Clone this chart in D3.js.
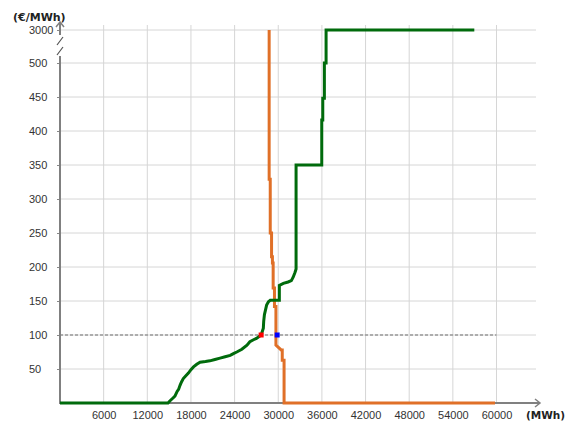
<!DOCTYPE html>
<html>
<head>
<meta charset="utf-8">
<script src="https://cdn.jsdelivr.net/npm/d3@7"></script>
<style>
  body { margin: 0; background: #fff; }
  svg { display: block; font-family: "DejaVu Sans", Verdana, sans-serif; }
  .tick text { font-size: 11px; fill: #333; }
</style>
</head>
<body>
<svg width="567" height="423"></svg>
<script>
// supply (sell) curve, [MWh, €/MWh]
const supply = [
    [0, 0], [14850, 0], [15100, 3], [15500, 7], [15800, 10], [16100, 17], [16300, 20],
    [16500, 26], [16700, 31], [16950, 36], [17300, 40], [17650, 44], [18000, 49],
    [18350, 53], [18800, 57], [19250, 60], [20000, 61], [20600, 62], [21300, 64],
    [22000, 66], [22700, 68], [23400, 70], [23900, 73], [24300, 75], [25000, 79],
    [25700, 85], [26100, 90], [26600, 93], [27000, 95], [27650, 100], [27950, 110],
    [28000, 120], [28100, 130], [28250, 137], [28400, 144], [28650, 149], [28900, 151],
    [30150, 151], [30150, 173], [30700, 176], [31350, 178], [31800, 180], [32050, 185],
    [32300, 192], [32450, 197], [32450, 350], [35980, 350], [35980, 416], [36120, 416],
    [36120, 448], [36340, 448], [36340, 500], [36575, 500], [36575, 3000], [56950, 3000]
];

// demand (buy) curve
const demand = [
    [28750, 3000], [28750, 329], [28900, 329], [28900, 250], [29080, 250], [29080, 215],
    [29200, 215], [29200, 206], [29300, 206], [29300, 169], [29480, 169], [29480, 142],
    [29680, 142], [29680, 85], [30400, 78], [30550, 78], [30550, 63], [30800, 63],
    [30800, 0], [59800, 0]
];

const refPrice = 100;
const crossPoints = [
    { mwh: 27650, price: 100, color: '#ff0000' },
    { mwh: 29850, price: 100, color: '#0000ff' }
];

const xTicks = [6000, 12000, 18000, 24000, 30000, 36000, 42000, 48000, 54000, 60000];
const yTicks = [50, 100, 150, 200, 250, 300, 350, 400, 450, 500, 3000];

const svg = d3.select('svg');
const x0 = 60;
const y0 = 403;

// broken axis: everything above 500 squeezed into the top gap
const x = d3.scaleLinear().domain([0, 60000]).range([x0, 496.5]);
const y = d3.scaleLinear().domain([0, 500, 3000]).range([y0, 63, 30]);

// grid
const grid = svg.append('g');
grid.selectAll('line.h')
    .data(yTicks)
    .enter()
    .append('line')
    .attr('x1', x0).attr('x2', 536)
    .attr('y1', d => y(d)).attr('y2', d => y(d))
    .attr('stroke', '#d6d6d6')
    .attr('stroke-width', 1);
grid.selectAll('line.v')
    .data(xTicks)
    .enter()
    .append('line')
    .attr('x1', d => x(d)).attr('x2', d => x(d))
    .attr('y1', 25).attr('y2', y0)
    .attr('stroke', '#d6d6d6')
    .attr('stroke-width', 1);

// reference price
svg.append('line')
    .attr('x1', x0).attr('x2', x(60000))
    .attr('y1', y(refPrice)).attr('y2', y(refPrice))
    .attr('stroke', '#999')
    .attr('stroke-width', 1.5)
    .attr('stroke-dasharray', '3,2');

// tick labels
const xAxis = svg.append('g')
    .attr('transform', `translate(0,${y0})`)
    .call(d3.axisBottom(x).tickValues(xTicks).tickSize(0).tickPadding(8).tickFormat(d3.format('d')));
xAxis.select('.domain').remove();

const yAxis = svg.append('g')
    .attr('transform', `translate(${x0},0)`)
    .call(d3.axisLeft(y).tickValues(yTicks).tickSize(3).tickFormat(d3.format('d')));
yAxis.select('.domain').remove();
yAxis.selectAll('.tick line').attr('stroke', '#888');
yAxis.selectAll('.tick text')
    .attr('text-anchor', 'start')
    .attr('x', 29 - x0);

// axis lines
const axisColor = '#808080';
svg.append('line')
    .attr('x1', x0).attr('x2', 540).attr('y1', y0).attr('y2', y0)
    .attr('stroke', axisColor).attr('stroke-width', 2);
svg.append('path')
    .attr('d', `M535,${y0 - 4}L540,${y0}L535,${y0 + 4}`)
    .attr('fill', 'none').attr('stroke', axisColor).attr('stroke-width', 1.5);

svg.append('line')
    .attr('x1', x0).attr('x2', x0).attr('y1', y0 + 1).attr('y2', 56)
    .attr('stroke', axisColor).attr('stroke-width', 2);
svg.append('line')
    .attr('x1', x0).attr('x2', x0).attr('y1', 35).attr('y2', 22)
    .attr('stroke', axisColor).attr('stroke-width', 2);
svg.append('path')
    .attr('d', 'M56,27L60,22L64,27')
    .attr('fill', 'none').attr('stroke', axisColor).attr('stroke-width', 1.5);
svg.append('path')
    .attr('d', 'M57,45L63,37M57,55L63,47')
    .attr('fill', 'none').attr('stroke', '#555').attr('stroke-width', 1.2);

// curves
const line = d3.line()
    .x(d => x(d[0]))
    .y(d => y(d[1]));

svg.append('path')
    .datum(demand)
    .attr('d', line)
    .attr('fill', 'none')
    .attr('stroke', '#e07028')
    .attr('stroke-width', 3);

svg.append('path')
    .datum(supply)
    .attr('d', line)
    .attr('fill', 'none')
    .attr('stroke', '#006b0c')
    .attr('stroke-width', 3);

svg.selectAll('rect.pt')
    .data(crossPoints)
    .enter()
    .append('rect')
    .attr('x', d => x(d.mwh) - 2.5)
    .attr('y', d => y(d.price) - 2.5)
    .attr('width', 5)
    .attr('height', 5)
    .attr('fill', d => d.color);

// axis titles
svg.append('text')
    .attr('x', 13).attr('y', 21)
    .attr('font-size', 11).attr('font-weight', 'bold').attr('fill', '#222')
    .text('(€/MWh)');
svg.append('text')
    .attr('x', 526).attr('y', 419)
    .attr('font-size', 10.5).attr('font-weight', 'bold').attr('fill', '#222')
    .text('(MWh)');
</script>
</body>
</html>
